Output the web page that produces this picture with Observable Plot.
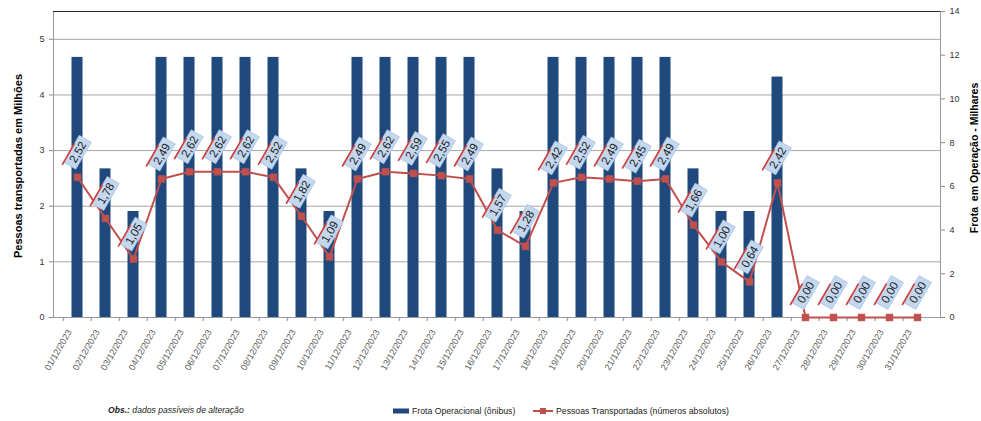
<!DOCTYPE html>
<html><head><meta charset="utf-8">
<script src="https://cdn.jsdelivr.net/npm/d3@7"></script>
<script src="https://cdn.jsdelivr.net/npm/@observablehq/plot@0.6"></script>
<style>body{margin:0;background:#fff} svg{display:block}</style>
</head><body><div id="chart"></div>
<script>
const dias = ["01/12/2023","02/12/2023","03/12/2023","04/12/2023","05/12/2023","06/12/2023","07/12/2023","08/12/2023","09/12/2023","10/12/2023","11/12/2023","12/12/2023","13/12/2023","14/12/2023","15/12/2023","16/12/2023","17/12/2023","18/12/2023","19/12/2023","20/12/2023","21/12/2023","22/12/2023","23/12/2023","24/12/2023","25/12/2023","26/12/2023","27/12/2023","28/12/2023","29/12/2023","30/12/2023","31/12/2023"];
// Frota operacional (milhares) - eixo direito
const frota = [11.9,6.8,4.85,11.9,11.9,11.9,11.9,11.9,6.8,4.85,11.9,11.9,11.9,11.9,11.9,6.8,4.85,11.9,11.9,11.9,11.9,11.9,6.8,4.85,4.85,11.0,0,0,0,0,0];
// Pessoas transportadas (milhões) - eixo esquerdo
const pessoas = [2.52,1.78,1.05,2.49,2.62,2.62,2.62,2.52,1.82,1.09,2.49,2.62,2.59,2.55,2.49,1.57,1.28,2.42,2.52,2.49,2.45,2.49,1.66,1.00,0.64,2.42,0,0,0,0,0];
const ticksEsq = [0,1,2,3,4,5];
const ticksDir = [0,2,4,6,8,10,12,14];
const maxEsq = 5.5, maxDir = 14;
const k = maxEsq / maxDir;

const rows = dias.map((d,i)=>({dia:d, frota:frota[i], pessoas:pessoas[i]}));
const fmt = v => d3.format(".2f")(v).replace(".", ",");

const W = 981, H = 421, mT = 11, mB = 104, mL = 53, mR = 41;
const bw = (W - mL - mR) / dias.length;
const pxPerUnit = (H - mT - mB) / maxEsq;

// rotated label box symbols
const ang = -60 * Math.PI / 180;
const ux = Math.cos(ang), uy = Math.sin(ang), vx = -uy, vy = ux;
const BL = 31, BW = 14;
const pt = (a, b) => [a*ux + b*vx, a*uy + b*vy];
const boxSymbol = { draw(ctx){
  const c = [pt(-BL/2,-BW/2), pt(BL/2,-BW/2), pt(BL/2,BW/2), pt(-BL/2,BW/2)];
  ctx.moveTo(...c[0]); ctx.lineTo(...c[1]); ctx.lineTo(...c[2]); ctx.lineTo(...c[3]); ctx.closePath();
}};
const redSymbol = { draw(ctx){
  ctx.moveTo(...pt(-BL/2-3, -BW/2)); ctx.lineTo(...pt(BL/5, -BW/2));
}};

const font = "'Liberation Sans', Arial, sans-serif";
const svg = Plot.plot({
  width: W, height: H,
  marginTop: mT, marginBottom: mB, marginLeft: mL, marginRight: mR,
  style: {fontFamily: font, fontSize: "9px", background: "#fff"},
  x: {domain: dias, padding: 0},
  y: {domain: [0, maxEsq]},
  marks: [
    Plot.ruleY(ticksEsq.filter(v => v > 0), {stroke: "#a6a6a6", strokeWidth: 1}),
    Plot.barY(rows, {x: "dia", y: d => d.frota * k, fill: "#1F497D", insetLeft: 8.5, insetRight: 8.5}),
    Plot.frame({stroke: "#9a9a9a"}),
    Plot.ruleY([maxEsq], {stroke: "#2a2a2a", strokeWidth: 1}),
    Plot.ruleX(dias, {x: d => d, dx: -bw/2, y1: 0, y2: -4/pxPerUnit, stroke: "#8a8a8a"}),
    Plot.axisX({tickSize: 0, tickRotate: -60, tickPadding: 13, dx: -8, fill: "#595959", fontSize: 9, label: null}),
    Plot.axisY({anchor: "left", ticks: ticksEsq, tickFormat: d => String(d), tickSize: 4, tickPadding: 5, stroke: "#8a8a8a", fill: "#333", label: null}),
    Plot.axisY({anchor: "right", ticks: ticksDir.map(v => v * k), tickFormat: v => String(Math.round(v / k)), tickSize: 4, tickPadding: 5, stroke: "#8a8a8a", fill: "#333", label: null}),
    Plot.line(rows, {x: "dia", y: "pessoas", stroke: "#C0504D", strokeWidth: 2}),
    Plot.dot(rows, {x: "dia", y: "pessoas", symbol: "square", r: 3.9, fill: "#C0504D", stroke: "#C0504D", strokeWidth: 0.5}),
    Plot.dot(rows, {x: "dia", y: "pessoas", dy: -25, symbol: boxSymbol, r: 4, fill: "#c3d7ef", stroke: "#aac2e2", strokeWidth: 0.8}),
    Plot.dot(rows, {x: "dia", y: "pessoas", dy: -25, symbol: redSymbol, r: 4, fill: "none", stroke: "#d33a3a", strokeWidth: 1.6}),
    Plot.text(rows, {x: "dia", y: "pessoas", dy: -25, dx: 0.5, text: d => fmt(d.pessoas), rotate: -60, fontSize: 11.5, fill: "#1a1a1a", textAnchor: "middle", lineAnchor: "middle"})
  ]
});

const s = d3.select(svg);
s.append("text").attr("transform", "translate(19,166) rotate(-90)")
  .attr("text-anchor", "middle").attr("dominant-baseline", "middle")
  .style("font", `bold 11px ${font}`).attr("fill", "#000").text("Pessoas transportadas em Milhões");
s.append("text").attr("transform", "translate(975,158) rotate(-90)")
  .attr("text-anchor", "middle").attr("dominant-baseline", "middle")
  .style("font", `bold 10.5px ${font}`).attr("fill", "#000").text("Frota  em Operação - Milhares");

const obs = s.append("text").attr("x", 108).attr("y", 413).attr("text-anchor", "start")
  .style("font", `italic 8.6px ${font}`).attr("fill", "#222");
obs.append("tspan").style("font-weight", "bold").text("Obs.:");
obs.append("tspan").text(" dados passíveis de alteração");

const lg = s.append("g").attr("text-anchor", "start").style("font", `8.7px ${font}`);
lg.append("rect").attr("x", 393).attr("y", 408.5).attr("width", 16).attr("height", 5).attr("fill", "#1F497D");
lg.append("text").attr("x", 412).attr("y", 414).attr("fill", "#222").text("Frota Operacional (ônibus)");
lg.append("line").attr("x1", 533).attr("x2", 553).attr("y1", 411).attr("y2", 411).attr("stroke", "#C0504D").attr("stroke-width", 2);
lg.append("rect").attr("x", 540).attr("y", 408).attr("width", 6).attr("height", 6).attr("fill", "#C0504D");
lg.append("text").attr("x", 556).attr("y", 414).attr("fill", "#222").text("Pessoas Transportadas (números absolutos)");

document.getElementById("chart").appendChild(svg);
</script>
</body></html>
